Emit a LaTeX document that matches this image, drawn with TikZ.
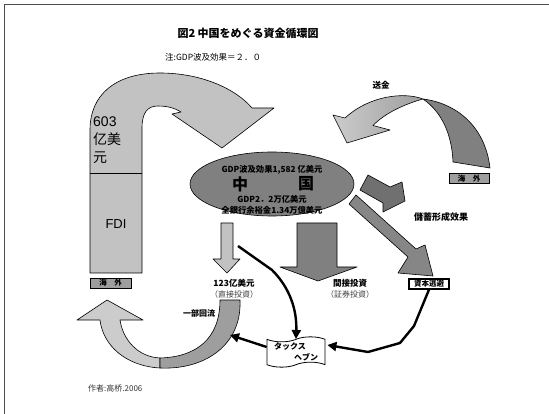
\documentclass[tikz,border=0pt]{standalone}
\usepackage{fontspec}
\setmainfont{Liberation Sans}
\newfontfamily\jp{Noto Sans CJK JP}
\usetikzlibrary{shapes.symbols,shapes.geometric,arrows.meta,calc}
\definecolor{lg}{gray}{0.76}
\definecolor{mg}{gray}{0.62}
\definecolor{dg}{gray}{0.5}
\definecolor{ddg}{gray}{0.44}
\definecolor{xlg}{gray}{0.80}
\tikzset{
  shp/.style={draw=black, line width=0.6pt, line join=round},
  lbl/.style={font=\jp\bfseries\fontsize{8.5}{10}\selectfont, inner sep=0pt},
  sublbl/.style={font=\jp\fontsize{8}{10}\selectfont, text=black!75, inner sep=0pt},
  tag/.style={draw=black, line width=0.8pt, minimum width=40pt, minimum height=10pt, inner sep=0pt, font=\jp\bfseries\fontsize{7.5}{8}\selectfont},
  blk/.style={line width=2.4pt, -{Triangle[length=9pt,width=9pt]}, line join=miter},
}
\begin{document}
\begin{tikzpicture}[x=1pt,y=-1pt]
\useasboundingbox (0,0) rectangle (549,414);
% frame
\draw[black!70, line width=0.9pt] (4.5,420) -- (4.5,4.5) -- (560,4.5);

% title
\node[font=\jp\bfseries\fontsize{11}{13}\selectfont, inner sep=0pt] (title) at (248,33) {図2\ 中国をめぐる資金循環図};
\node[font=\jp\fontsize{8.5}{10}\selectfont, anchor=west, inner sep=0pt] (note) at (165,57) {注:GDP波及効果＝２．０};

% big left U arrow
\path[shp, fill=lg] (90,273) -- (90,130) .. controls (90,95) and (115,73) .. (160,73)
  .. controls (200,73) and (235,88) .. (252,108) -- (274,108) -- (222,148) -- (172,114) -- (181,112)
  .. controls (173,107) and (165,106) .. (158,106) .. controls (148,106) and (142,112) .. (142,128)
  -- (142,273) -- cycle;
\draw[line width=0.6pt] (90,173) -- (142,173);
\node[font=\fontsize{14}{18}\selectfont, align=left, anchor=north west, inner sep=0pt] (amt) at (93,117) {603\\{\jp 亿美}\\{\jp 元}};
\node[font=\fontsize{13}{15}\selectfont, inner sep=0pt] (fdi) at (116,224) {FDI};

% overseas tags
\node[tag, fill=mg, minimum width=41pt] (hw1) at (110.5,283) {海\quad 外};
\node[tag, fill=mg] (hw2) at (469,178.5) {海\quad 外};

% top right curved arrow (送金)
\path[shp, left color=xlg, right color=mg] (423,99) .. controls (405,92) and (370,95) .. (345,118)
  -- (333,115) -- (347,143) -- (390,130) -- (373,125.5) .. controls (385,113) and (405,104) .. (423,99) -- cycle;
\path[shp, fill=dg] (423,99) .. controls (455,103) and (485,125) .. (490,168) -- (453,162)
  .. controls (452,135) and (442,112) .. (423,99) -- cycle;
\node[lbl] (remit) at (381,85) {送金};

% ellipse China
\node[ellipse, draw=black, line width=0.6pt, fill=dg, minimum width=164pt, minimum height=64pt] (cn) at (272,184) {};
\node[lbl, font=\jp\bfseries\fontsize{8.3}{10}\selectfont] (l1) at (272,170) {GDP波及効果1,582 亿美元};
\node[font=\jp\bfseries\fontsize{16}{18}\selectfont, inner sep=0pt] (zh) at (240,184) {中};
\node[font=\jp\bfseries\fontsize{16}{18}\selectfont, inner sep=0pt] (gu) at (306,184) {国};
\node[lbl, font=\jp\bfseries\fontsize{8.3}{10}\selectfont] (l3) at (272,199) {GDP2．2万亿美元};
\node[lbl, font=\jp\bfseries\fontsize{8.3}{10}\selectfont] (l4) at (272,210) {全銀行余裕金1.34万億美元};

% savings arrow
\path[shp, fill=ddg] (368,175) -- (390,187) -- (402,182) -- (405,201) -- (383,212) -- (383,203) -- (360,190) -- cycle;
\node[lbl, font=\jp\bfseries\fontsize{9}{10}\selectfont] (sav) at (441,217) {儲蓄形成效果};

% capital flight arrow
\path[shp, fill=mg!85!black] (356,195) -- (416,249) -- (425,245) -- (433,276) -- (398,273) -- (408,257) -- (349,204) -- cycle;

% middle down arrow
\path[shp, fill=dg] (297,223) -- (337,223) -- (337,267) -- (357,267) -- (318,281) -- (280,267) -- (297,267) -- cycle;
\node[lbl] (ind) at (350,283) {間接投資};
\node[sublbl] (ind2) at (350,294) {（証券投資）};

% small left down arrow
\path[shp, fill=lg] (221,223) -- (233,223) -- (233,259) -- (240,259) -- (227,273) -- (213,259) -- (221,259) -- cycle;
\node[lbl] (dir) at (234,283) {123亿美元};
\node[sublbl] (dir2) at (234,294) {（直接投資）};

% capital flight tag
\node[tag, fill=white, line width=1.2pt] (cf) at (429,284) {資本逃避};

% bottom-left curved arrow
\path[shp, fill=xlg] (160,368) .. controls (125,366) and (103,345) .. (100,320) -- (77,320) -- (107,300) -- (143,320) -- (120,320)
  .. controls (123,340) and (138,357) .. (160,358) -- cycle;
\path[shp, fill=mg] (220,300) -- (240,300) .. controls (242,345) and (205,370) .. (160,368) -- (160,358)
  .. controls (195,357) and (220,340) .. (220,300) -- cycle;
\node[lbl, font=\jp\bfseries\fontsize{8}{10}\selectfont] (back) at (199,313) {一部回流};

% tax haven
\node[tape, draw=black, line width=0.8pt, fill=white, minimum width=58pt, minimum height=30pt, inner sep=1pt,
  font=\jp\bfseries\fontsize{8}{11}\selectfont, align=left] (th) at (296,352) {タックス\\\hspace*{20pt}ヘブン};

% black arrows
\coordinate (a1) at (238,246);
\coordinate (c1) at (230,335);
\draw[blk] (a1) -- (272,270) .. controls (290,288) and (297,310) .. (th.north);
\draw[blk] (cf.south) -- (414,326) -- (400,343) -- (368,352) -- ($(th.east)+(2,-7)$);
\draw[blk] ($(th.west)+(0,-5)$) -- (c1);

% author
\node[font=\jp\fontsize{8}{10}\selectfont, anchor=west, inner sep=0pt, text=black!80] (auth) at (88,388) {作者:高桥.2006};
\end{tikzpicture}
\end{document}
